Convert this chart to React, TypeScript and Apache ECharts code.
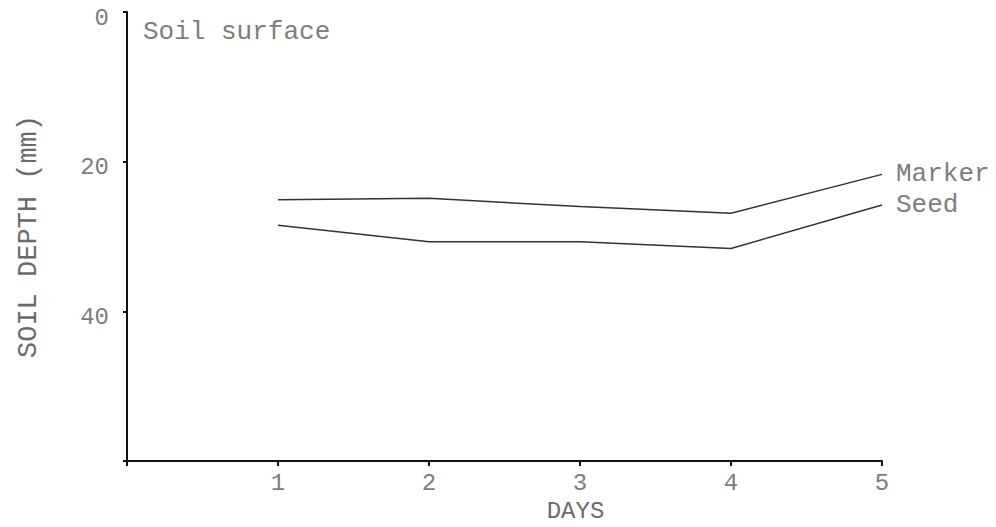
import React, { useEffect, useRef } from "react";
import * as echarts from "echarts";

const days = [1, 2, 3, 4, 5];
const markerDepth = [25.1, 24.9, 26.0, 26.9, 21.7];
const seedDepth = [28.5, 30.7, 30.7, 31.6, 25.8];
const seriesNames = ["Marker", "Seed"];

const FONT = "'Liberation Mono', 'DejaVu Sans Mono', monospace";
const GRAY = "#7d7d7d";

export default function App() {
  const ref = useRef<HTMLDivElement>(null);
  useEffect(() => {
    if (!ref.current) return;
    const chart = echarts.init(ref.current, null, { renderer: "svg" });
    const mk = (vals: number[]) => days.map((d, i) => [d, vals[i]]);
    chart.setOption({
      animation: false,
      backgroundColor: "#ffffff",
      grid: { left: 127, top: 12, right: 114, bottom: 66, containLabel: false, outerBoundsMode: "none" },
      xAxis: {
        type: "value",
        position: "bottom",
        min: 0,
        max: 5,
        interval: 1,
        name: "DAYS",
        nameLocation: "middle",
        nameGap: 34,
        nameTextStyle: { fontFamily: FONT, fontSize: 24, color: "#6a6a6a", padding: [0, 0, 0, 142] },
        axisLine: { onZero: false, lineStyle: { color: "#111", width: 2 } },
        axisTick: { show: true, length: 5, lineStyle: { color: "#111", width: 2 } },
        axisLabel: {
          fontFamily: FONT,
          fontSize: 24,
          color: GRAY,
          margin: 10,
          formatter: (v: number) => (v === 0 ? "" : String(v)),
        },
        splitLine: { show: false },
      },
      yAxis: {
        type: "value",
        inverse: true,
        min: 0,
        max: 60,
        interval: 20,
        name: "SOIL DEPTH (mm)",
        nameLocation: "middle",
        nameGap: 85,
        nameRotate: 90,
        nameTextStyle: { fontFamily: FONT, fontSize: 27, color: "#6a6a6a" },
        axisLine: { onZero: false, lineStyle: { color: "#111", width: 2 } },
        axisTick: { show: true, length: 4, lineStyle: { color: "#111", width: 2 } },
        axisLabel: {
          fontFamily: FONT,
          fontSize: 24,
          color: GRAY,
          margin: 18,
          verticalAlign: "top",
          lineHeight: 12,
          formatter: (v: number) => (v === 60 ? "" : String(v)),
        },
        splitLine: { show: false },
      },
      graphic: [
        {
          type: "text",
          left: 143,
          top: 19,
          style: { text: "Soil surface", fontFamily: FONT, fontSize: 26, fill: GRAY },
        },
      ],
      series: [markerDepth, seedDepth].map((vals, i) => ({
        type: "line",
        name: seriesNames[i],
        data: mk(vals),
        showSymbol: false,
        symbol: "none",
        lineStyle: { color: "#333", width: 1.5 },
        endLabel: {
          show: true,
          formatter: "{a}",
          distance: 14,
          fontFamily: FONT,
          fontSize: 26,
          color: GRAY,
        },
      })),
    });
    return () => chart.dispose();
  }, []);
  return (
    <div
      ref={ref}
      style={{ position: "absolute", left: 0, top: 0, width: 996, height: 527 }}
    />
  );
}
